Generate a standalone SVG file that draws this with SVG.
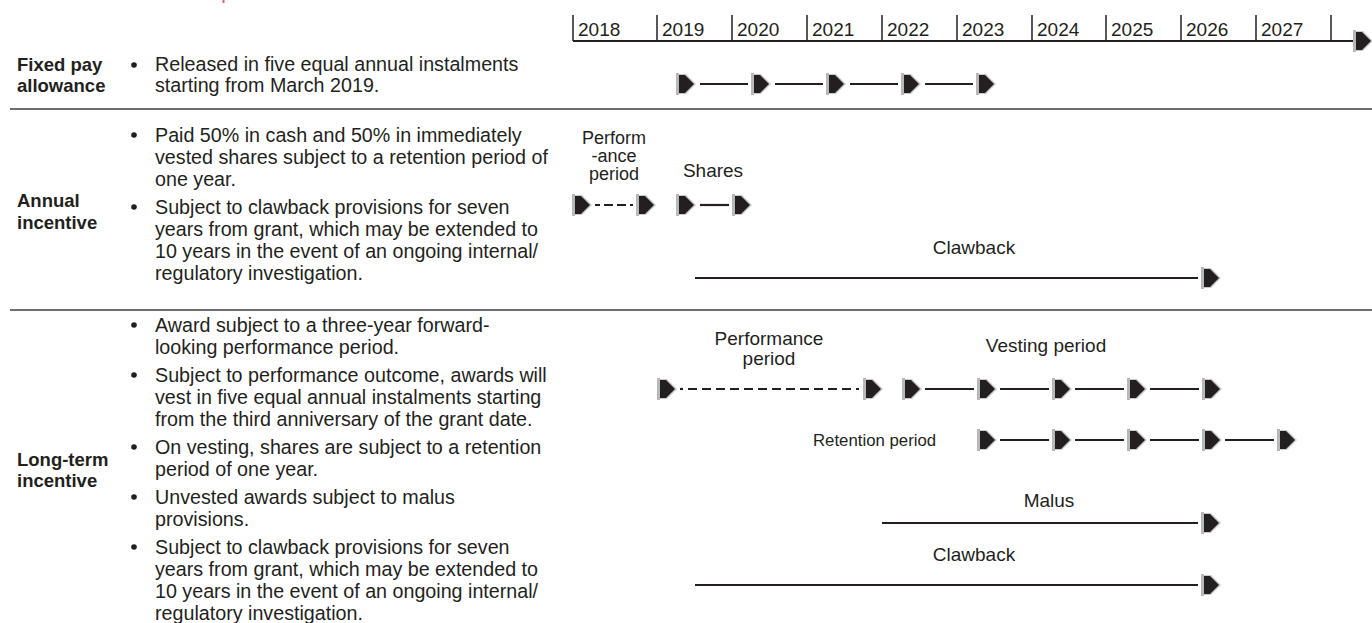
<svg xmlns="http://www.w3.org/2000/svg" xmlns:xlink="http://www.w3.org/1999/xlink" width="1372" height="623" viewBox="0 0 1372 623">
<style>
  .lbl { font-family: "Liberation Sans", Arial, sans-serif; font-weight: bold; font-size: 18.5px; fill: #231f20; }
  .body { font-family: "Liberation Sans", Arial, sans-serif; font-size: 19.7px; fill: #231f20; }
  .tl { font-family: "Liberation Sans", Arial, sans-serif; font-size: 19px; fill: #231f20; }
  .tlc { font-family: "Liberation Sans", Arial, sans-serif; font-size: 19px; fill: #231f20; text-anchor: middle; }
  .tls { font-family: "Liberation Sans", Arial, sans-serif; font-size: 18px; fill: #231f20; text-anchor: middle; }
  .small { font-family: "Liberation Sans", Arial, sans-serif; font-size: 16.8px; fill: #231f20; }
  .ln { stroke: #231f20; stroke-width: 2.2; fill: none; }
  .dash { stroke: #231f20; stroke-width: 2.2; fill: none; stroke-dasharray: 9 5; }
  .sep { stroke: #6d6e71; stroke-width: 2; }
  .tick { stroke: #231f20; stroke-width: 1.5; }
  .bullet { fill: #231f20; }
</style>
<defs>
  <g id="ah">
    <rect x="0" y="-11" width="3" height="22" fill="#b8b8b8"/>
    <path d="M3,-10 H10 L20,0 L10,10 H3 Z" fill="#c9c9c9"/>
    <path d="M3,-9 H9 L18,0 L9,9 H3 Z" fill="#231f20"/>
  </g>
</defs>
<rect width="1372" height="623" fill="#ffffff"/>
<rect x="222.5" y="0" width="2" height="3" fill="#e5646c"/>

<g id="separators">
  <line class="sep" x1="10" y1="109" x2="1372" y2="109"/>
  <line class="sep" x1="10" y1="310" x2="1372" y2="310"/>
</g>

<g id="axis">
  <line class="ln" x1="573" y1="41" x2="1356" y2="41"/>
  <line class="tick" x1="573" y1="15" x2="573" y2="41"/>
  <line class="tick" x1="657" y1="15" x2="657" y2="41"/>
  <line class="tick" x1="732" y1="15" x2="732" y2="41"/>
  <line class="tick" x1="807" y1="15" x2="807" y2="41"/>
  <line class="tick" x1="882" y1="15" x2="882" y2="41"/>
  <line class="tick" x1="957" y1="15" x2="957" y2="41"/>
  <line class="tick" x1="1032" y1="15" x2="1032" y2="41"/>
  <line class="tick" x1="1106" y1="15" x2="1106" y2="41"/>
  <line class="tick" x1="1181" y1="15" x2="1181" y2="41"/>
  <line class="tick" x1="1256" y1="15" x2="1256" y2="41"/>
  <line class="tick" x1="1331" y1="15" x2="1331" y2="41"/>
  <use xlink:href="#ah" href="#ah" x="1353" y="41"/>
  <text class="tl" x="578" y="36">2018</text>
  <text class="tl" x="662" y="36">2019</text>
  <text class="tl" x="737" y="36">2020</text>
  <text class="tl" x="812" y="36">2021</text>
  <text class="tl" x="887" y="36">2022</text>
  <text class="tl" x="962" y="36">2023</text>
  <text class="tl" x="1037" y="36">2024</text>
  <text class="tl" x="1111" y="36">2025</text>
  <text class="tl" x="1186" y="36">2026</text>
  <text class="tl" x="1261" y="36">2027</text>
</g>

<g id="row-fixed">
  <text class="lbl" x="17" y="71">Fixed pay</text>
  <text class="lbl" x="17" y="92">allowance</text>
  <circle class="bullet" cx="134" cy="65" r="2.8"/>
  <text class="body" x="155" y="71">Released in five equal annual instalments</text>
  <text class="body" x="155" y="92">starting from March 2019.</text>
</g>

<g id="row-annual">
  <text class="lbl" x="17" y="207">Annual</text>
  <text class="lbl" x="17" y="229">incentive</text>
  <circle class="bullet" cx="134" cy="135" r="2.8"/>
  <text class="body" x="155" y="141.5">Paid 50% in cash and 50% in immediately</text>
  <text class="body" x="155" y="163.5">vested shares subject to a retention period of</text>
  <text class="body" x="155" y="185.5">one year.</text>
  <circle class="bullet" cx="134" cy="207" r="2.8"/>
  <text class="body" x="155" y="213.5">Subject to clawback provisions for seven</text>
  <text class="body" x="155" y="235.5">years from grant, which may be extended to</text>
  <text class="body" x="155" y="257.5">10 years in the event of an ongoing internal/</text>
  <text class="body" x="155" y="279.5">regulatory investigation.</text>
</g>

<g id="row-lti">
  <text class="lbl" x="17" y="466">Long-term</text>
  <text class="lbl" x="17" y="487">incentive</text>
  <circle class="bullet" cx="134" cy="325" r="2.8"/>
  <text class="body" x="155" y="331.5">Award subject to a three-year forward-</text>
  <text class="body" x="155" y="353.5">looking performance period.</text>
  <circle class="bullet" cx="134" cy="375" r="2.8"/>
  <text class="body" x="155" y="381.5">Subject to performance outcome, awards will</text>
  <text class="body" x="155" y="403.5">vest in five equal annual instalments starting</text>
  <text class="body" x="155" y="425.5">from the third anniversary of the grant date.</text>
  <circle class="bullet" cx="134" cy="447" r="2.8"/>
  <text class="body" x="155" y="453.5">On vesting, shares are subject to a retention</text>
  <text class="body" x="155" y="475.5">period of one year.</text>
  <circle class="bullet" cx="134" cy="497" r="2.8"/>
  <text class="body" x="155" y="503.5">Unvested awards subject to malus</text>
  <text class="body" x="155" y="525.5">provisions.</text>
  <circle class="bullet" cx="134" cy="547" r="2.8"/>
  <text class="body" x="155" y="553.5">Subject to clawback provisions for seven</text>
  <text class="body" x="155" y="575.5">years from grant, which may be extended to</text>
  <text class="body" x="155" y="597.5">10 years in the event of an ongoing internal/</text>
  <text class="body" x="155" y="619.5">regulatory investigation.</text>
</g>

<g id="timeline-labels">
  <text class="tls" x="614" y="144">Perform</text>
  <text class="tls" x="614" y="162">-ance</text>
  <text class="tls" x="614" y="180">period</text>
  <text class="tlc" x="713" y="177">Shares</text>
  <text class="tlc" x="974" y="254">Clawback</text>
  <text class="tlc" x="769" y="345">Performance</text>
  <text class="tlc" x="769" y="365">period</text>
  <text class="tlc" x="1046" y="352">Vesting period</text>
  <text class="small" x="813" y="446">Retention period</text>
  <text class="tlc" x="1049" y="507">Malus</text>
  <text class="tlc" x="974" y="561">Clawback</text>
</g>

<g id="connectors">
  <line class="ln" x1="700" y1="84" x2="748" y2="84"/>
  <line class="ln" x1="775" y1="84" x2="823" y2="84"/>
  <line class="ln" x1="850" y1="84" x2="898" y2="84"/>
  <line class="ln" x1="925" y1="84" x2="973" y2="84"/>
  <use href="#ah" xlink:href="#ah" x="676" y="84"/>
  <use href="#ah" xlink:href="#ah" x="751" y="84"/>
  <use href="#ah" xlink:href="#ah" x="826" y="84"/>
  <use href="#ah" xlink:href="#ah" x="901" y="84"/>
  <use href="#ah" xlink:href="#ah" x="976" y="84"/>
  <line class="dash" x1="595" y1="205" x2="633" y2="205" style="stroke-dasharray: 5 4 9 4 9 4"/>
  <line class="ln" x1="700" y1="205" x2="729" y2="205"/>
  <use href="#ah" xlink:href="#ah" x="572" y="205"/>
  <use href="#ah" xlink:href="#ah" x="636" y="205"/>
  <use href="#ah" xlink:href="#ah" x="676" y="205"/>
  <use href="#ah" xlink:href="#ah" x="732" y="205"/>
  <line class="ln" x1="695" y1="278" x2="1198" y2="278"/>
  <use href="#ah" xlink:href="#ah" x="1201" y="278"/>
  <line class="ln" x1="680" y1="389" x2="683" y2="389"/>
  <line class="dash" x1="688" y1="389" x2="859" y2="389"/>
  <use href="#ah" xlink:href="#ah" x="657" y="389"/>
  <use href="#ah" xlink:href="#ah" x="863" y="389"/>
  <line class="ln" x1="925" y1="389" x2="974" y2="389"/>
  <line class="ln" x1="1000" y1="389" x2="1049" y2="389"/>
  <line class="ln" x1="1075" y1="389" x2="1124" y2="389"/>
  <line class="ln" x1="1150" y1="389" x2="1199" y2="389"/>
  <use href="#ah" xlink:href="#ah" x="902" y="389"/>
  <use href="#ah" xlink:href="#ah" x="977" y="389"/>
  <use href="#ah" xlink:href="#ah" x="1052" y="389"/>
  <use href="#ah" xlink:href="#ah" x="1127" y="389"/>
  <use href="#ah" xlink:href="#ah" x="1202" y="389"/>
  <line class="ln" x1="1000" y1="440" x2="1049" y2="440"/>
  <line class="ln" x1="1075" y1="440" x2="1124" y2="440"/>
  <line class="ln" x1="1150" y1="440" x2="1199" y2="440"/>
  <line class="ln" x1="1225" y1="440" x2="1274" y2="440"/>
  <use href="#ah" xlink:href="#ah" x="977" y="440"/>
  <use href="#ah" xlink:href="#ah" x="1052" y="440"/>
  <use href="#ah" xlink:href="#ah" x="1127" y="440"/>
  <use href="#ah" xlink:href="#ah" x="1202" y="440"/>
  <use href="#ah" xlink:href="#ah" x="1277" y="440"/>
  <line class="ln" x1="882" y1="523" x2="1198" y2="523"/>
  <use href="#ah" xlink:href="#ah" x="1201" y="523"/>
  <line class="ln" x1="695" y1="585" x2="1198" y2="585"/>
  <use href="#ah" xlink:href="#ah" x="1201" y="585"/>
</g>
</svg>
